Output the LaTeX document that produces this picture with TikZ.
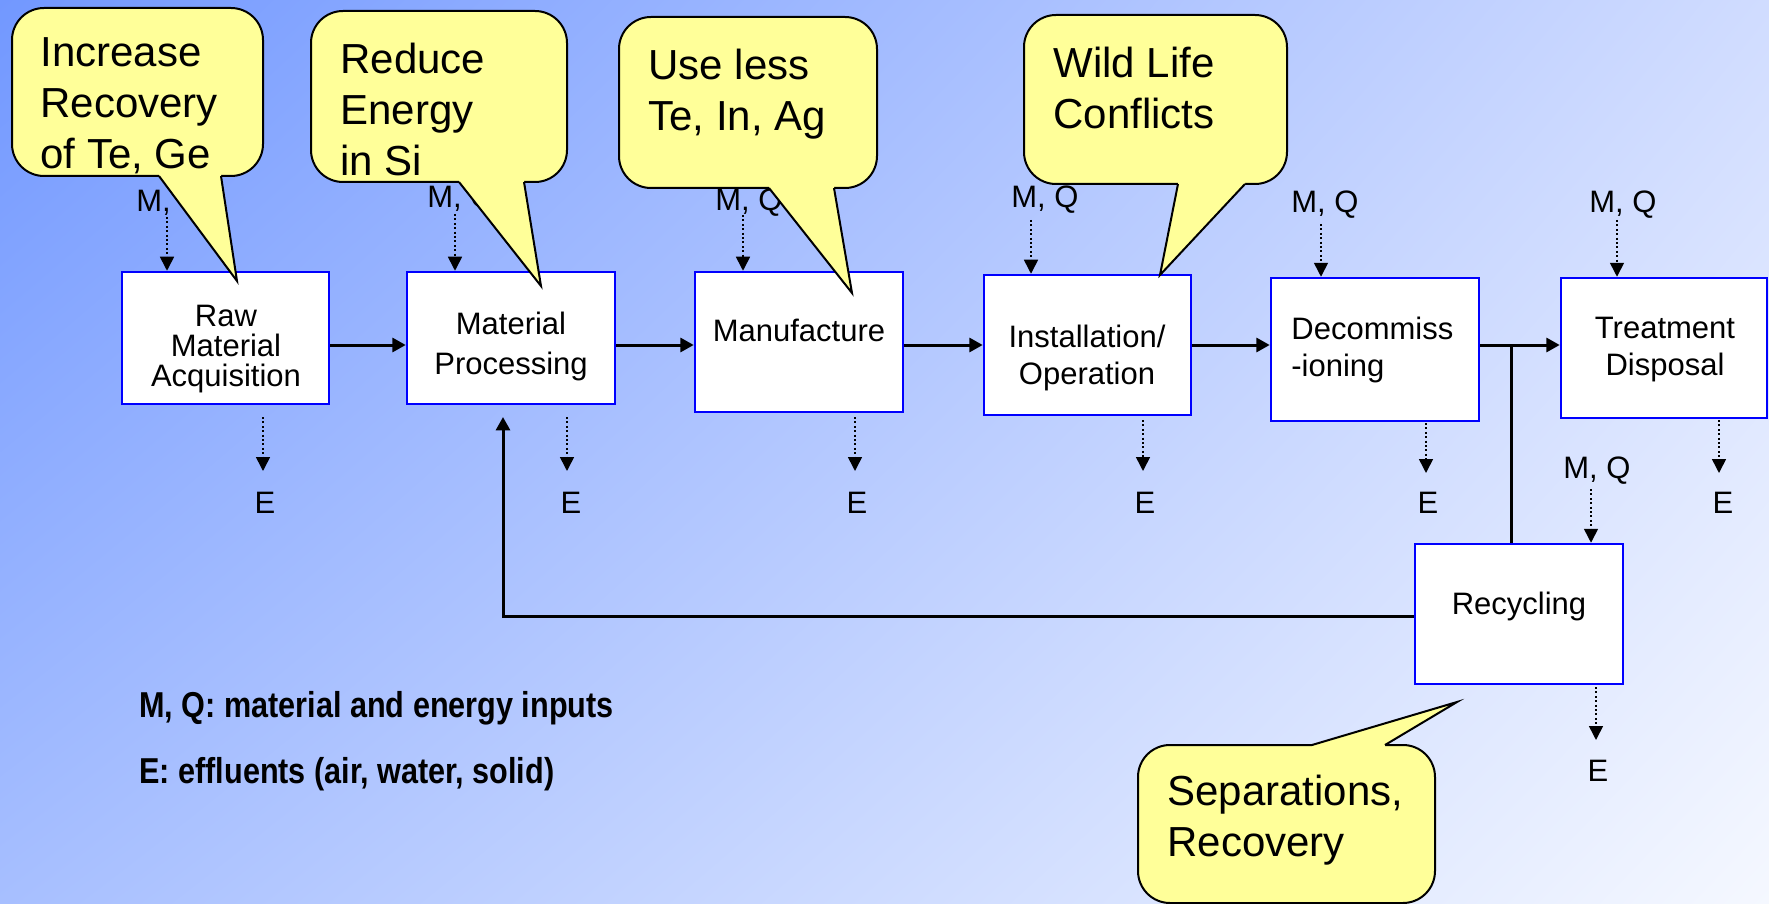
\documentclass[tikz,border=0pt]{standalone}
\usepackage{fontspec}
\setmainfont{Liberation Sans}
\newfontfamily\legendfont[FakeStretch=0.85]{Liberation Sans}
\usetikzlibrary{arrows.meta,shadings}
\definecolor{bgUL}{HTML}{7298FF}
\definecolor{bgUR}{HTML}{D0DCFF}
\definecolor{bgLL}{HTML}{A7BFFF}
\definecolor{bgLR}{HTML}{F5F8FF}
\definecolor{callfill}{HTML}{FFFF99}
\definecolor{boxblue}{HTML}{0000FF}
\begin{document}
\begin{tikzpicture}[x=0.5pt,y=-0.5pt,
  stagebox/.style={draw=boxblue, line width=1.25pt, fill=white, rectangle, inner sep=0pt},
  stagetext/.style={inner sep=0pt, font=\fontsize{15.5}{18.5}\selectfont, align=center, anchor=north},
  flowarr/.style={line width=1.5pt, -{Triangle[length=6.7pt,width=7pt]}},
  flowline/.style={line width=1.5pt},
  ioarr/.style={line width=0.8pt, dash pattern=on 1pt off 1.2pt, -{Triangle[length=7pt,width=7pt]}},
  iolabel/.style={inner sep=0pt, font=\fontsize{15.5}{18.5}\selectfont, anchor=base west},
  elabel/.style={inner sep=0pt, font=\fontsize{15.5}{18.5}\selectfont, anchor=base},
  callout/.style={draw=black, line width=1pt, fill=callfill},
  calloutedge/.style={draw=black, line width=1pt, line join=miter},
  callouttext/.style={inner sep=0pt, font=\fontsize{21}{25.5}\selectfont, align=left, anchor=north west},
  legendtext/.style={inner sep=0pt, font=\legendfont\bfseries\fontsize{18}{22}\selectfont, anchor=base west}]

\useasboundingbox (0,0) rectangle (1769,904);
\shade[upper left=bgUL, upper right=bgUR, lower left=bgLL, lower right=bgLR] (0,0) rectangle (1769,904);

% stage boxes
\node[stagebox, minimum width=103.5pt, minimum height=66pt] (b1) at (225.5,338) {};
\node[stagebox, minimum width=104pt, minimum height=66pt] (b2) at (511,338) {};
\node[stagebox, minimum width=104pt, minimum height=70pt] (b3) at (799,342) {};
\node[stagebox, minimum width=103.5pt, minimum height=70pt] (b4) at (1087.5,345) {};
\node[stagebox, minimum width=104pt, minimum height=71.5pt] (b5) at (1375,349.5) {};
\node[stagebox, minimum width=103pt, minimum height=70pt] (b6) at (1664,348) {};
\node[stagebox, minimum width=104pt, minimum height=70pt] (b7) at (1519,614) {};

% stage texts
\node[stagetext, font=\fontsize{15.5}{15}\selectfont] (t1) at (226,305) {Raw\\Material\\Acquisition};
\node[stagetext, font=\fontsize{15.5}{20}\selectfont] (t2) at (511,312) {Material\\Processing};
\node[stagetext] (t3) at (799,319) {Manufacture};
\node[stagetext] (t4) at (1087,325) {Installation/\\Operation};
\node[stagetext, align=left, anchor=north west] (t5) at (1291,317) {Decommiss\\-ioning};
\node[stagetext] (t6) at (1665,317) {Treatment\\Disposal};
\node[stagetext] (t7) at (1519,592) {Recycling};

% main flow
\coordinate (hy) at (0,345);
\draw[flowarr] (b1.east |- hy) -- (b2.west |- hy);
\draw[flowarr] (b2.east |- hy) -- (b3.west |- hy);
\draw[flowarr] (b3.east |- hy) -- (b4.west |- hy);
\draw[flowarr] (b4.east |- hy) -- (b5.west |- hy);
\draw[flowarr] (b5.east |- hy) -- (b6.west |- hy);
\coordinate (br) at (1511,345);
\draw[flowline] (br) -- (br |- b7.north);
\coordinate (fby) at (0,616);
\coordinate (fb) at (503,417);
\draw[flowarr] (b7.west |- fby) -| (fb);

% inputs M, Q
\node[iolabel] (m1) at (136,212) {M, Q};
\node[iolabel] (m2) at (427,207) {M, Q};
\node[iolabel] (m3) at (715,211) {M, Q};
\node[iolabel] (m4) at (1011,207) {M, Q};
\node[iolabel] (m5) at (1291,213) {M, Q};
\node[iolabel] (m6) at (1589,213) {M, Q};
\node[iolabel] (m7) at (1563,478) {M, Q};
\coordinate (i1) at (167,217);
\coordinate (i2) at (455,214);
\coordinate (i3) at (743,215);
\coordinate (i4) at (1031,220);
\coordinate (i5) at (1321,224);
\coordinate (i6) at (1617,220);
\coordinate (i7) at (1591,489);
\draw[ioarr] (i1) -- (i1 |- b1.north);
\draw[ioarr] (i2) -- (i2 |- b2.north);
\draw[ioarr] (i3) -- (i3 |- b3.north);
\draw[ioarr] (i4) -- (i4 |- b4.north);
\draw[ioarr] (i5) -- (i5 |- b5.north);
\draw[ioarr] (i6) -- (i6 |- b6.north);
\draw[ioarr] (i7) -- (i7 |- b7.north);

% effluents E
\node[elabel] (e1) at (265,513) {E};
\node[elabel] (e2) at (571,513) {E};
\node[elabel] (e3) at (857,513) {E};
\node[elabel] (e4) at (1145,513) {E};
\node[elabel] (e5) at (1428,513) {E};
\node[elabel] (e6) at (1723,513) {E};
\node[elabel] (e7) at (1598,781) {E};
\coordinate (o1) at (263,417); \coordinate (o1e) at (263,471);
\coordinate (o2) at (567,417); \coordinate (o2e) at (567,471);
\coordinate (o3) at (855,417); \coordinate (o3e) at (855,471);
\coordinate (o4) at (1143,420); \coordinate (o4e) at (1143,471);
\coordinate (o5) at (1426,423); \coordinate (o5e) at (1426,473);
\coordinate (o6) at (1719,420); \coordinate (o6e) at (1719,473);
\coordinate (o7) at (1596,687); \coordinate (o7e) at (1596,740);
\draw[ioarr] (o1) -- (o1e);
\draw[ioarr] (o2) -- (o2e);
\draw[ioarr] (o3) -- (o3e);
\draw[ioarr] (o4) -- (o4e);
\draw[ioarr] (o5) -- (o5e);
\draw[ioarr] (o6) -- (o6e);
\draw[ioarr] (o7) -- (o7e);

% legend
\node[legendtext] (lg1) at (139,717) {M, Q: material and energy inputs};
\node[legendtext] (lg2) at (139,783) {E: effluents (air, water, solid)};

% callouts
% 1
\draw[callout, rounded corners=16pt] (12,8) rectangle (263,176);
\fill[callfill] (159,176) -- (237,281) -- (221,176) -- (221,171) -- (159,171) -- cycle;
\draw[calloutedge] (159,176) -- (237,281) -- (221,176);
\node[callouttext] (c1) at (40,37) {Increase\\Recovery\\of Te, Ge};
% 2
\draw[callout, rounded corners=16pt] (311,11) rectangle (567,182);
\fill[callfill] (459,182) -- (541,286) -- (524,182) -- (524,177) -- (459,177) -- cycle;
\draw[calloutedge] (459,182) -- (541,286) -- (524,182);
\node[callouttext] (c2) at (340,43) {Reduce\\Energy\\in Si};
% 3
\draw[callout, rounded corners=16pt] (619,17) rectangle (877,188);
\fill[callfill] (769,188) -- (852,293) -- (834,188) -- (834,183) -- (769,183) -- cycle;
\draw[calloutedge] (769,188) -- (852,293) -- (834,188);
\node[callouttext] (c3) at (648,49) {Use less\\Te, In, Ag};
% 4
\draw[callout, rounded corners=16pt] (1024,15) rectangle (1287,184);
\fill[callfill] (1178,184) -- (1160,275) -- (1245,184) -- (1245,179) -- (1178,179) -- cycle;
\draw[calloutedge] (1178,184) -- (1160,275) -- (1245,184);
\node[callouttext] (c4) at (1053,47) {Wild Life\\Conflicts};
% 5
\draw[callout, rounded corners=16pt] (1138,745) rectangle (1435,903);
\fill[callfill] (1312,745) -- (1457,702) -- (1385,745) -- (1385,750) -- (1312,750) -- cycle;
\draw[calloutedge] (1312,745) -- (1457,702) -- (1385,745);
\node[callouttext] (c5) at (1167,775) {Separations,\\Recovery};
\end{tikzpicture}
\end{document}
